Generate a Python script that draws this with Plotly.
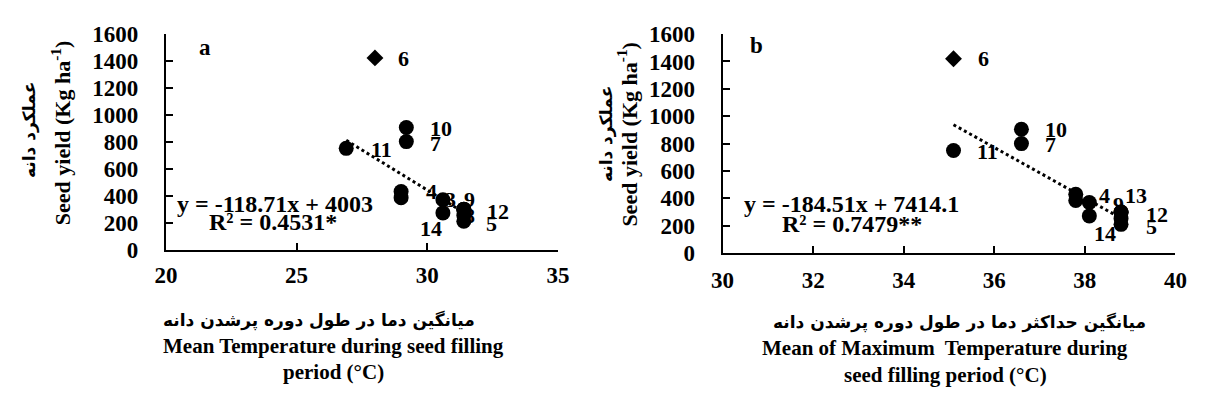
import plotly.graph_objects as go

# ---- data -------------------------------------------------------------
env_ids = ["11", "10", "7", "4", "", "3", "14", "9", "8", "12", "13", "5"]
mean_temp = [26.9, 29.2, 29.2, 29.0, 29.0, 30.6, 30.6, 31.4, 31.4, 31.4, 31.4, 31.4]
max_temp = [35.1, 36.6, 36.6, 37.8, 37.8, 38.1, 38.1, 38.8, 38.8, 38.8, 38.8, 38.8]
seed_yield = [750, 905, 800, 430, 385, 370, 272, 296, 252, 300, 300, 210]

# environment 6 is plotted separately (diamond) and left out of the fits
outlier_id = "6"
outlier_mean_temp = 28.0
outlier_max_temp = 35.1
outlier_yield = 1420

# linear fits: (slope, intercept)
fit_a = (-118.71, 4003)
fit_b = (-184.51, 7414.1)
eq_a = "y = -118.71x + 4003"
r2_a = "R² = 0.4531*"
eq_b = "y = -184.51x + 7414.1"
r2_b = "R² = 0.7479**"

# which labels are printed beside points in each panel
labels_a = ["11", "10", "7", "4", "3", "14", "9", "8", "12", "5"]
labels_b = ["11", "10", "7", "4", "14", "9", "13", "12", "5"]

# ---- styling ----------------------------------------------------------
W, H = 1206, 412
SERIF = "Liberation Serif"
PERSIAN = "DejaVu Sans"

# pixel offsets of each point label from its marker (dx right, dy down)
offs_a = {"11": (35, 1), "10": (35, 1), "7": (29, 2), "4": (30, 0), "3": (8, 0),
          "14": (-12, 16), "9": (6, -10), "8": (6, 0), "12": (34, 2), "5": (28, 2),
          "6": (29, 1)}
offs_b = {"11": (34, 1), "10": (35, 0), "7": (29, 1), "4": (29, 1), "14": (16, 18),
          "9": (-3, -8), "13": (15, -17), "12": (36, 2), "5": (30, 2), "6": (30, 0)}


def px(x):
    return x / W


def py(y):
    return 1 - y / H


fig = go.Figure()

panels = [
    ("x", "y", mean_temp, outlier_mean_temp, fit_a, labels_a, offs_a),
    ("x2", "y2", max_temp, outlier_max_temp, fit_b, labels_b, offs_b),
]

LABEL_FONT = dict(family=SERIF, size=22, color="black", weight="bold")

annotations = []
for xr, yr, xs, x6, (m, c), shown, offs in panels:
    # trend line across the fitted range
    x0, x1 = min(xs), max(xs)
    fig.add_trace(go.Scatter(
        x=[x0, x1], y=[m * x0 + c, m * x1 + c], xaxis=xr, yaxis=yr,
        mode="lines", line=dict(color="black", width=3, dash="dot"),
        showlegend=False, hoverinfo="skip"))
    fig.add_trace(go.Scatter(
        x=xs, y=seed_yield, xaxis=xr, yaxis=yr, mode="markers",
        marker=dict(symbol="circle", size=15, color="black"),
        showlegend=False))
    fig.add_trace(go.Scatter(
        x=[x6], y=[outlier_yield], xaxis=xr, yaxis=yr, mode="markers",
        marker=dict(symbol="diamond", size=13, color="black"),
        showlegend=False))
    # point labels
    for eid, xv, yv in zip(env_ids, xs, seed_yield):
        if eid in shown:
            dx, dy = offs[eid]
            annotations.append(dict(
                x=xv, y=yv, xref=xr, yref=yr, text=eid, showarrow=False,
                xshift=dx, yshift=-dy, xanchor="center", yanchor="middle",
                font=LABEL_FONT))
    dx, dy = offs[outlier_id]
    annotations.append(dict(
        x=x6, y=outlier_yield, xref=xr, yref=yr, text=outlier_id, showarrow=False,
        xshift=dx, yshift=-dy, xanchor="center", yanchor="middle",
        font=LABEL_FONT))


def text_note(x, y, text, size=22, family=SERIF, angle=0, weight="bold"):
    annotations.append(dict(
        x=px(x), y=py(y), xref="paper", yref="paper", text=text, showarrow=False,
        xanchor="center", yanchor="middle", textangle=angle,
        font=dict(family=family, size=size, color="black", weight=weight)))


# panel letters
text_note(197, 38, "a", size=23)
text_note(760, 36, "b", size=23)

# regression equations
text_note(268, 204, eq_a, size=24)
text_note(266, 224, r2_a, size=24)
text_note(857, 204, eq_b, size=24)
text_note(857, 226, r2_b, size=24)

# y-axis titles
text_note(50, 129, "Seed yield (Kg ha<sup>-1</sup>)", size=22, angle=-90)
text_note(18, 126, "عملکرد دانه", size=17, family=PERSIAN, angle=-90)
text_note(628, 130, "Seed yield (Kg ha<sup>-1</sup>)", size=22, angle=-90)
text_note(606, 130, "عملکرد دانه", size=17, family=PERSIAN, angle=-90)

# x-axis titles
text_note(313, 328, "میانگین دما در طول دوره پرشدن دانه", size=17, family=PERSIAN)
text_note(328, 356, "Mean Temperature during seed filling", size=21)
text_note(328, 383, "period (°C)", size=21)
text_note(967, 331, "میانگین حداکثر دما در طول دوره پرشدن دانه", size=17, family=PERSIAN)
text_note(952, 358, "Mean of Maximum  Temperature during", size=21)
text_note(952, 386, "seed filling period (°C)", size=21)

tickfont = dict(family=SERIF, size=23, color="black", weight="bold")
axis_common = dict(
    showline=True, linewidth=2, linecolor="black", showgrid=False, zeroline=False,
    ticks="inside", ticklen=7, tickwidth=2, tickcolor="black", tickfont=tickfont,
    fixedrange=True)

fig.update_layout(
    width=W, height=H,
    margin=dict(l=0, r=0, t=0, b=0),
    paper_bgcolor="white", plot_bgcolor="white",
    showlegend=False,
    xaxis=dict(domain=[px(157), px(557)], range=[20, 35], dtick=5,
               anchor="y", ticklabelstandoff=4, **axis_common),
    yaxis=dict(domain=[py(253), py(23)], range=[0, 1600], dtick=200,
               anchor="x", ticklabelstandoff=21, **axis_common),
    xaxis2=dict(domain=[px(725), px(1187)], range=[30, 40], dtick=2,
                anchor="y2", ticklabelstandoff=5, **axis_common),
    yaxis2=dict(domain=[py(256.7), py(23.5)], range=[0, 1600], dtick=200,
                anchor="x2", ticklabelstandoff=21, **axis_common),
    annotations=annotations,
)

fig.write_html("out.html")
